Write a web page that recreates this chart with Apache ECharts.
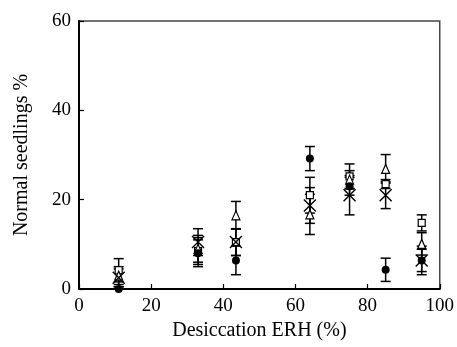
<!DOCTYPE html>
<html>
<head>
<meta charset="utf-8">
<script src="https://cdn.jsdelivr.net/npm/echarts@6/dist/echarts.min.js"></script>
<style>
  html, body { margin: 0; padding: 0; background: #ffffff; }
  #chart { width: 457px; height: 347px; }
</style>
</head>
<body>
<div id="chart"></div>
<script>
// desiccation ERH (%)
var erh = [11, 33, 43.5, 64, 75, 85, 95];

// normal seedlings % (mean) and error for each marker
var circleVals = [0, 8, 6.4, 29.2, 23, 4.3, 6.4];
var circleErr = [0.5, 3, 3.2, 2.7, 2, 2.6, 2.5];
var squareVals = [4.2, 8.5, 10.5, 21, 25.2, 23.5, 14.8];
var squareErr = [2.6, 3, 3, 4, 2.8, 1, 1.8];
var triangleVals = [3, 9, 16.5, 16.7, 24.5, 26.9, 10.1];
var triangleErr = [2, 3, 3.1, 4.5, 2, 3.2, 2.5];
var crossVals = [2.5, 10.5, 10.5, 18.7, 21, 21, 6.4];
var crossErr = [2, 3, 3, 4, 4.4, 3, 3.2];

var xTicks = [0, 20, 40, 60, 80, 100];
var yTicks = [0, 20, 40, 60];

var serifFont = "'Liberation Serif', 'DejaVu Serif', serif";

function pts(vals) {
  return erh.map(function (x, i) { return [x, vals[i]]; });
}
function errData(vals, errs) {
  return erh.map(function (x, i) { return [x, vals[i] - errs[i], vals[i] + errs[i]]; });
}

// vertical error bar with caps
function renderErr(params, api) {
  var x = api.value(0);
  var lo = api.coord([x, Math.max(api.value(1), 0)]);
  var hi = api.coord([x, api.value(2)]);
  var w = 5;
  var st = { stroke: '#000', lineWidth: 1.5 };
  return {
    type: 'group',
    children: [
      { type: 'line', shape: { x1: lo[0], y1: lo[1], x2: hi[0], y2: hi[1] }, style: st },
      { type: 'line', shape: { x1: lo[0] - w, y1: lo[1], x2: lo[0] + w, y2: lo[1] }, style: st },
      { type: 'line', shape: { x1: hi[0] - w, y1: hi[1], x2: hi[0] + w, y2: hi[1] }, style: st }
    ]
  };
}

function errSeries(vals, errs) {
  return {
    type: 'custom',
    renderItem: renderErr,
    data: errData(vals, errs),
    encode: { x: 0, y: [1, 2] },
    z: 2,
    silent: true
  };
}

var myChart = echarts.init(document.getElementById('chart'));
var option = {
  animation: false,
  grid: {
    left: 79, right: 15, top: 21, bottom: 58,
    show: true, borderColor: '#444', borderWidth: 1.5
  },
  xAxis: {
    type: 'value',
    min: 0, max: 100, interval: 20,
    name: 'Desiccation ERH (%)',
    nameLocation: 'middle',
    nameGap: 32,
    nameTextStyle: { fontFamily: serifFont, fontSize: 20, color: '#000' },
    axisLine: { show: true, lineStyle: { color: '#000', width: 2 } },
    axisTick: { show: true, inside: true, length: 5, lineStyle: { color: '#000', width: 1.2 } },
    axisLabel: {
      margin: 8, color: '#000', fontFamily: serifFont, fontSize: 19,
      formatter: function (v) { return xTicks.indexOf(v) >= 0 ? String(v) : ''; }
    },
    splitLine: { show: false }
  },
  yAxis: {
    type: 'value',
    min: 0, max: 60, interval: 20,
    name: 'Normal seedlings %',
    nameLocation: 'middle',
    nameGap: 47,
    nameTextStyle: { fontFamily: serifFont, fontSize: 20, color: '#000' },
    axisLine: { show: true, lineStyle: { color: '#000', width: 2 } },
    axisTick: { show: true, inside: true, length: 5, lineStyle: { color: '#000', width: 1.2 } },
    axisLabel: {
      margin: 8, color: '#000', fontFamily: serifFont, fontSize: 19,
      formatter: function (v) { return yTicks.indexOf(v) >= 0 ? String(v) : ''; }
    },
    splitLine: { show: false }
  },
  series: [
    errSeries(circleVals, circleErr),
    errSeries(squareVals, squareErr),
    errSeries(triangleVals, triangleErr),
    errSeries(crossVals, crossErr),
    {
      type: 'scatter', data: pts(squareVals), symbol: 'rect', symbolSize: 7, z: 3,
      itemStyle: { color: '#fff', borderColor: '#000', borderWidth: 1.2, opacity: 1 }
    },
    {
      type: 'scatter', data: pts(triangleVals), symbol: 'triangle', symbolSize: [8, 9], z: 3,
      itemStyle: { color: '#fff', borderColor: '#000', borderWidth: 1.2, opacity: 1 }
    },
    {
      type: 'scatter', data: pts(crossVals), symbol: 'path://M0,0L10,10M10,0L0,10', symbolSize: 12, z: 4,
      itemStyle: { color: 'none', borderColor: '#000', borderWidth: 1.4, opacity: 1 }
    },
    {
      type: 'scatter', data: pts(circleVals), symbol: 'circle', symbolSize: 8, z: 5,
      itemStyle: { color: '#000', opacity: 1 }
    }
  ]
};
myChart.setOption(option);
window.addEventListener('resize', function () { myChart.resize(); });
</script>
</body>
</html>
